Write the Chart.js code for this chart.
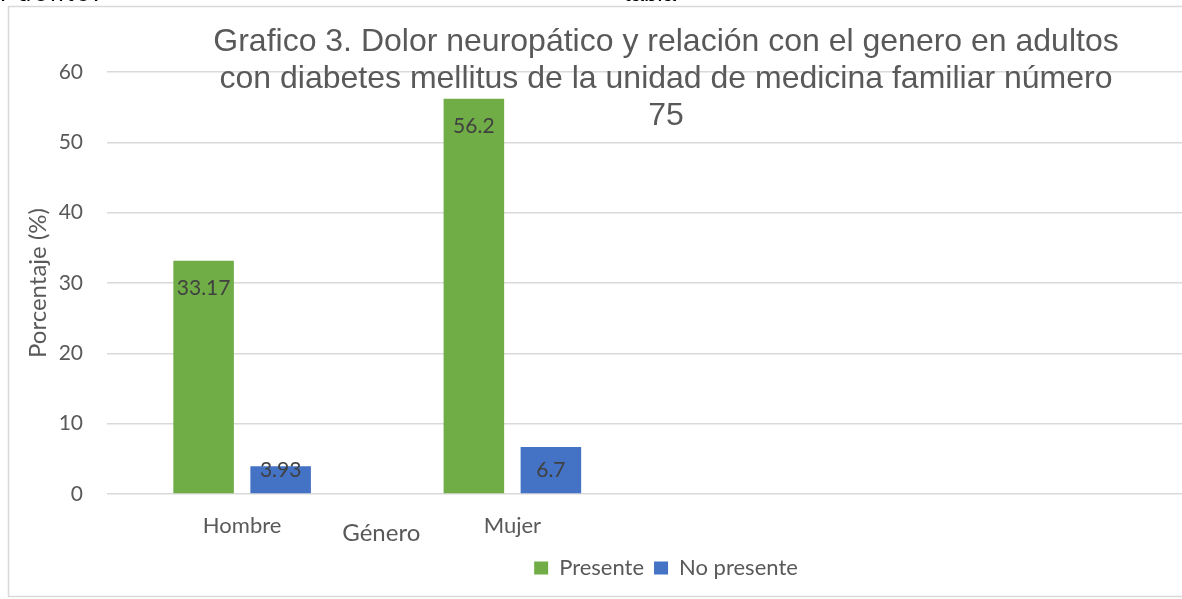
<!DOCTYPE html>
<html>
<head>
<meta charset="utf-8">
<script src="https://cdn.jsdelivr.net/npm/chart.js@4.4.1/dist/chart.umd.min.js"></script>
<style>
  html, body { margin: 0; padding: 0; background: #fff; overflow: hidden; width: 1182px; height: 599px; }
  #wrap { position: absolute; left: 0; top: 0; width: 1332px; height: 599px; }
  .cut { position: absolute; font-family: "Liberation Sans", Arial, sans-serif; font-size: 24px; line-height: 24px; color: #000; top: -19px; white-space: nowrap; z-index: 2; }
</style>
</head>
<body>
<div id="wrap"><canvas id="c" width="1332" height="599"></canvas></div>
<div class="cut" style="left:0px; letter-spacing:3px;">Fuente:</div>
<div class="cut" style="left:624px;">tabla</div>
<script>
const categories = ['Hombre', 'Mujer', '', ''];
const presente = [33.17, 56.2, null, null];
const noPresente = [3.93, 6.7, null, null];
const seriesNames = ['Presente', 'No presente'];
const titleLines = [
  'Grafico 3. Dolor neuropático y relación con el genero en adultos',
  'con diabetes mellitus de la unidad de medicina familiar número',
  '75'
];
const yTitle = 'Porcentaje (%)';
const xTitle = 'Género';

const GREY = '#595959';

const framePlugin = {
  id: 'frame',
  afterLayout(chart) {
    if (chart.legend) {
      chart.legend.left = 0;
      chart.legend.right = chart.width;
    }
  },
  beforeDraw(chart) {
    const ctx = chart.ctx;
    ctx.save();
    ctx.fillStyle = '#ffffff';
    ctx.fillRect(0, 0, chart.width, chart.height);
    ctx.strokeStyle = '#d9d9d9';
    ctx.lineWidth = 1.5;
    ctx.strokeRect(8.5, 6.5, 1316, 590);
    ctx.restore();
  },
  afterDatasetsDraw(chart) {
    const ctx = chart.ctx;
    ctx.save();
    ctx.font = '21px Lato';
    ctx.fillStyle = '#404040';
    ctx.textAlign = 'center';
    ctx.textBaseline = 'middle';
    chart.data.datasets.forEach((ds, i) => {
      const meta = chart.getDatasetMeta(i);
      meta.data.forEach((el, j) => {
        const v = ds.data[j];
        if (v === null || v === undefined) return;
        const cy = Math.min(el.y + 28, el.base - 23);
        ctx.fillText(String(v), el.x, cy);
      });
    });
    ctx.restore();
  },
  afterDraw(chart) {
    const ctx = chart.ctx;
    const xs = chart.scales.x;
    ctx.save();
    ctx.fillStyle = GREY;
    ctx.textAlign = 'center';
    ctx.textBaseline = 'alphabetic';
    ctx.font = '32px "Liberation Sans", Arial, sans-serif';
    const cx = 666;
    titleLines.forEach((t, i) => ctx.fillText(t, cx, 51 + i * 37));
    ctx.font = '24px Lato';
    ctx.textBaseline = 'middle';
    ctx.fillText(xTitle, xs.getPixelForValue(0.5) + 4, chart.chartArea.bottom + 39);
    ctx.restore();
  }
};

new Chart(document.getElementById('c'), {
  type: 'bar',
  data: {
    labels: categories,
    datasets: [
      { label: seriesNames[0], data: presente, backgroundColor: '#70AD47', borderWidth: 0 },
      { label: seriesNames[1], data: noPresente, backgroundColor: '#4472C4', borderWidth: 0 }
    ]
  },
  options: {
    responsive: false,
    animation: false,
    devicePixelRatio: 1,
    categoryPercentage: 0.57,
    barPercentage: 0.786,
    layout: { padding: { left: 24, right: 144, top: 72, bottom: 10 } },
    plugins: {
      title: { display: false },
      tooltip: { enabled: false },
      legend: {
        position: 'bottom',
        labels: {
          font: { family: 'Lato', size: 22 },
          color: GREY,
          boxWidth: 14,
          boxHeight: 13,
          padding: 10
        }
      }
    },
    scales: {
      x: {
        grid: { display: false, drawTicks: false },
        border: { display: false },
        ticks: { color: GREY, font: { family: 'Lato', size: 22 }, padding: 19, autoSkip: false, maxRotation: 0 },
        afterFit(s) { s.height = 53; }
      },
      y: {
        min: 0,
        max: 60,
        ticks: { stepSize: 10, color: GREY, font: { family: 'Lato', size: 21 }, padding: 24 },
        grid: { color: '#d9d9d9', lineWidth: 1.5, drawTicks: false },
        border: { display: false },
        title: { display: true, text: yTitle, color: GREY, font: { family: 'Lato', size: 24 }, padding: { top: 0, bottom: 0 } },
        afterFit(s) { s.width = 83; }
      }
    }
  },
  plugins: [framePlugin]
});
</script>
</body>
</html>
